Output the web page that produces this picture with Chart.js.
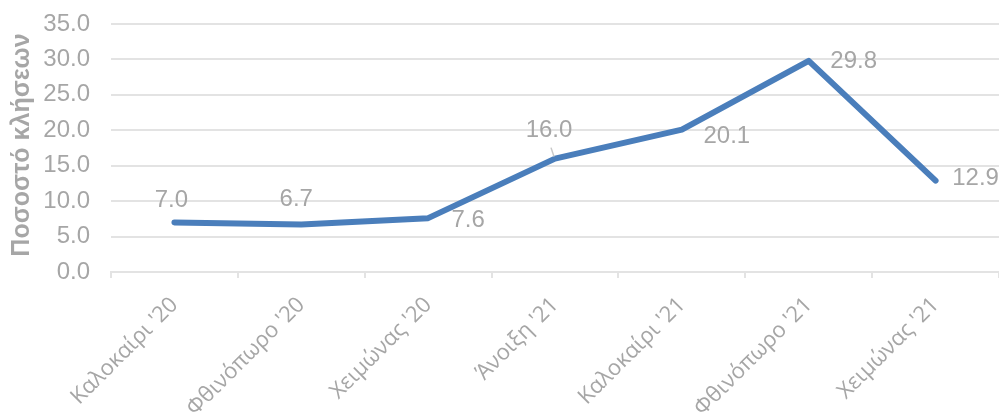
<!DOCTYPE html>
<html>
<head>
<meta charset="utf-8">
<script src="https://cdn.jsdelivr.net/npm/chart.js@4.4.0/dist/chart.umd.min.js"></script>
<style>
  html, body { margin: 0; padding: 0; background: #fff; }
  #wrap { width: 999px; height: 418px; }
</style>
</head>
<body>
<div id="wrap"><canvas id="calls"></canvas></div>
<script>
'use strict';

// data
var seasons = ['Καλοκαίρι \'20', 'Φθινόπωρο \'20', 'Χειμώνας \'20', 'Άνοιξη \'21',
    'Καλοκαίρι \'21', 'Φθινόπωρο \'21', 'Χειμώνας \'21'];
var callShare = [7.0, 6.7, 7.6, 16.0, 20.1, 29.8, 12.9];
var yTicks = [0, 5, 10, 15, 20, 25, 30, 35];
var yTitle = 'Ποσοστό κλήσεων';

// label placement (dx, dy from the point)
var labelOffsets = [[-3, -22], [-5, -25], [40, 2], [-6, -28], [45, 7], [45, 1], [40, -2]];

var grey = '#a6a6a6';
var gridGrey = '#e3e3e3';

var valueLabels = {
    id: 'valueLabels',
    afterDatasetsDraw: function (chart) {
        var ctx = chart.ctx;
        var meta = chart.getDatasetMeta(0);
        ctx.save();
        ctx.font = '24px "Liberation Sans", Arial, sans-serif';
        ctx.fillStyle = grey;
        ctx.textAlign = 'center';
        ctx.textBaseline = 'middle';
        meta.data.forEach(function (pt, i) {
            var off = labelOffsets[i];
            ctx.fillText(callShare[i].toFixed(1), pt.x + off[0], pt.y + off[1]);
        });
        // leader line for the Άνοιξη label
        var p = meta.data[3];
        ctx.strokeStyle = '#c8c8c8';
        ctx.lineWidth = 1.5;
        ctx.beginPath();
        ctx.moveTo(p.x - 4, p.y - 11);
        ctx.lineTo(p.x - 1, p.y - 2);
        ctx.stroke();

        // y axis title
        var area = chart.chartArea;
        ctx.font = 'bold 25px "Liberation Sans", Arial, sans-serif';
        ctx.translate(22, (area.top + area.bottom) / 2 - 3);
        ctx.rotate(-Math.PI / 2);
        ctx.fillText(yTitle, 0, 0);
        ctx.restore();
    }
};

var config = {
    type: 'line',
    data: {
        labels: seasons,
        datasets: [{
            data: callShare,
            borderColor: '#4a7ebb',
            borderWidth: 6,
            borderCapStyle: 'round',
            borderJoinStyle: 'round',
            pointRadius: 0,
            tension: 0,
            fill: false
        }]
    },
    options: {
        responsive: true,
        maintainAspectRatio: false,
        animation: false,
        layout: { padding: { top: 24, right: 0, left: 0, bottom: 0 } },
        plugins: {
            legend: { display: false },
            tooltip: { enabled: false }
        },
        scales: {
            x: {
                offset: true,
                grid: {
                    offset: true,
                    drawOnChartArea: false,
                    drawTicks: true,
                    tickLength: 6,
                    color: gridGrey,
                    lineWidth: 2
                },
                border: { color: gridGrey, width: 2 },
                ticks: {
                    minRotation: 45,
                    maxRotation: 45,
                    padding: 14,
                    color: grey,
                    font: { family: '"Open Sans"', size: 22 }
                },
                afterFit: function (scale) { scale.height = 146; }
            },
            y: {
                min: 0,
                max: 35,
                afterBuildTicks: function (scale) {
                    scale.ticks = yTicks.map(function (v) { return { value: v }; });
                },
                grid: {
                    color: gridGrey,
                    lineWidth: 2,
                    drawTicks: false
                },
                border: { display: false },
                ticks: {
                    padding: 21,
                    color: grey,
                    font: { family: '"Liberation Sans", Arial, sans-serif', size: 24 },
                    callback: function (v) { return v.toFixed(1); }
                },
                afterFit: function (scale) {
                    scale.width = 111;
                    scale.paddingTop = 0;
                    scale.paddingBottom = 0;
                }
            }
        }
    },
    plugins: [valueLabels]
};

function draw() {
    var ctx = document.getElementById('calls').getContext('2d');
    window.callsChart = new Chart(ctx, config);
}

Promise.all([
    document.fonts.load('22px "Open Sans"', 'Καλοκαίρι Φθινόπωρο Χειμώνας Άνοιξη \'21'),
    document.fonts.load('24px "Liberation Sans"', '0123456789.'),
    document.fonts.load('bold 25px "Liberation Sans"', yTitle)
]).then(draw, draw);
</script>
</body>
</html>
